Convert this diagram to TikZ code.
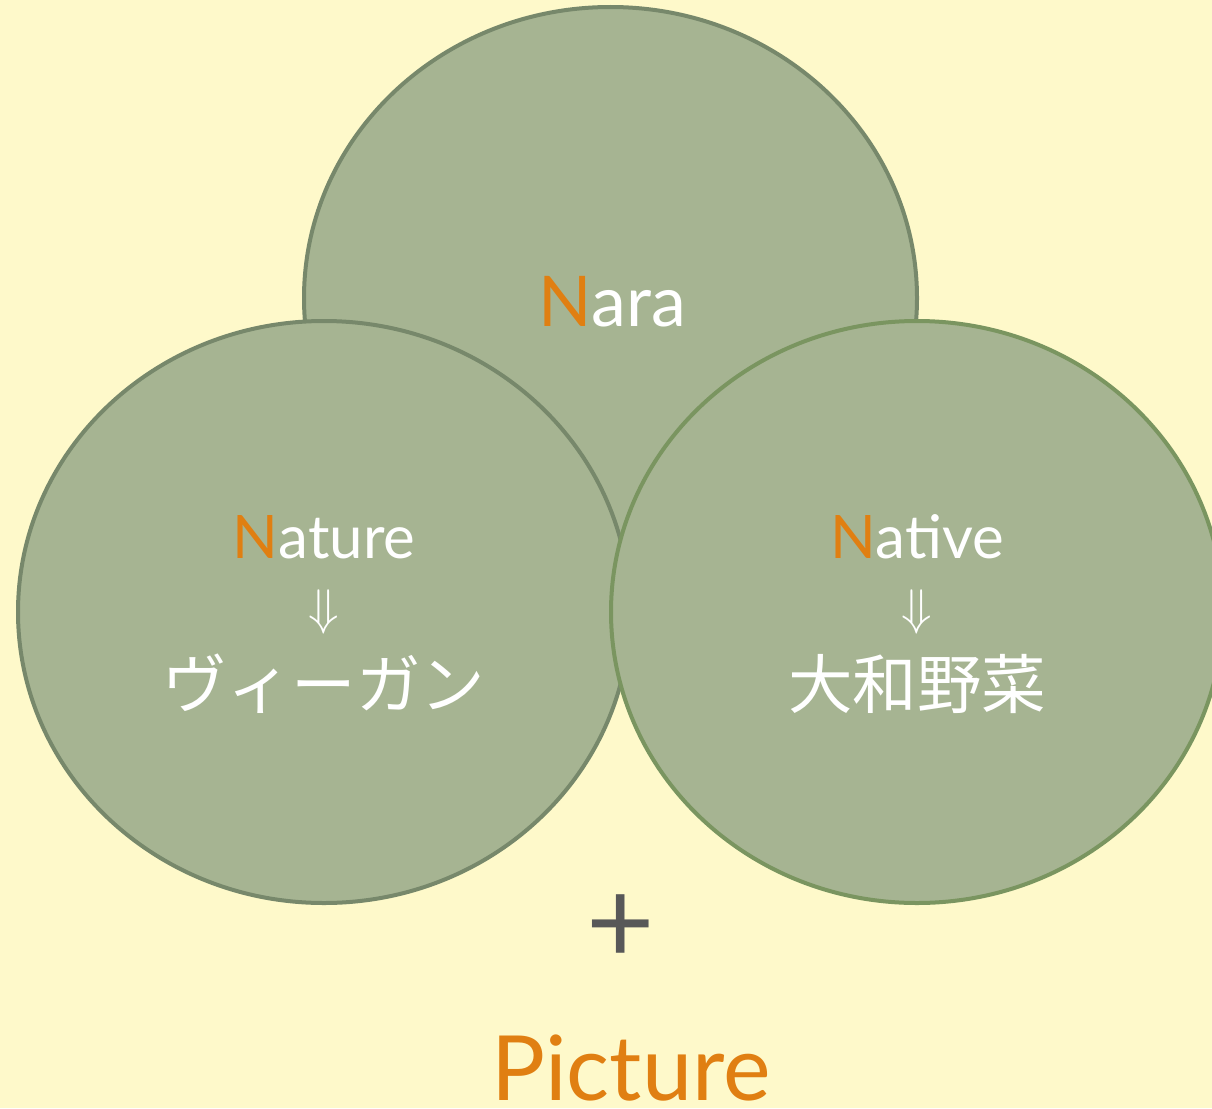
\documentclass[tikz,border=0pt]{standalone}
\usepackage{fontspec}
\usepackage{graphicx}
\setmainfont{Lato}
\newfontfamily\jpfont{Noto Sans CJK JP}
\usetikzlibrary{shapes.geometric}
\definecolor{bgc}{HTML}{FEF9CA}
\definecolor{fillc}{HTML}{A6B492}
\definecolor{bordA}{HTML}{77886B}
\definecolor{bordB}{HTML}{7A9560}
\definecolor{orangec}{HTML}{E07F12}
\definecolor{plusc}{HTML}{585858}
\tikzset{
  circ/.style={ellipse, fill=fillc, line width=4pt, inner sep=0pt, minimum width=612pt, minimum height=582pt},
  lbl/.style={text=white, inner sep=0pt, font=\fontsize{60}{72}\selectfont},
  jp/.style={text=white, inner sep=0pt, font=\jpfont\fontsize{64.5}{72}\selectfont},
  arr/.style={text=white, inner sep=0pt},
}
\newcommand{\fl}[1]{\textcolor{orangec}{#1}}
\newcommand{\bigdown}{\scalebox{5}{$\Downarrow$}}
\begin{document}
\begin{tikzpicture}[x=1pt,y=-1pt]
\useasboundingbox (0,0) rectangle (1212,1108);
\clip (0,0) rectangle (1212,1108);
\fill[bgc] (0,0) rectangle (1212,1108);
\node[circ, draw=bordA, minimum width=613pt] (top) at (610.5,298) {};
\node[circ, draw=bordA] (left) at (324,612) {};
\node[circ, draw=bordB] (right) at (917,612) {};
\node[lbl, anchor=base, font=\fontsize{70}{80}\selectfont] (nara) at (612,326) {\fl{N}ara};
\node[lbl, anchor=base] (nature) at (324,558) {\fl{N}ature};
\node[arr] (arrL) at (324,612) {\bigdown};
\node[jp] (vegan) at (324,684) {ヴィーガン};
\node[lbl, anchor=base] (native) at (917,558) {\fl{N}ative};
\node[arr] (arrR) at (917,612) {\bigdown};
\node[jp] (yamato) at (917,684) {大和野菜};
\node[text=plusc, inner sep=0pt, font=\fontsize{118}{120}\selectfont] (plus) at (621,929) {+};
\node[text=orangec, inner sep=0pt, anchor=base, font=\fontsize{90}{100}\selectfont] (pic) at (631,1100) {Picture};
\end{tikzpicture}
\end{document}
